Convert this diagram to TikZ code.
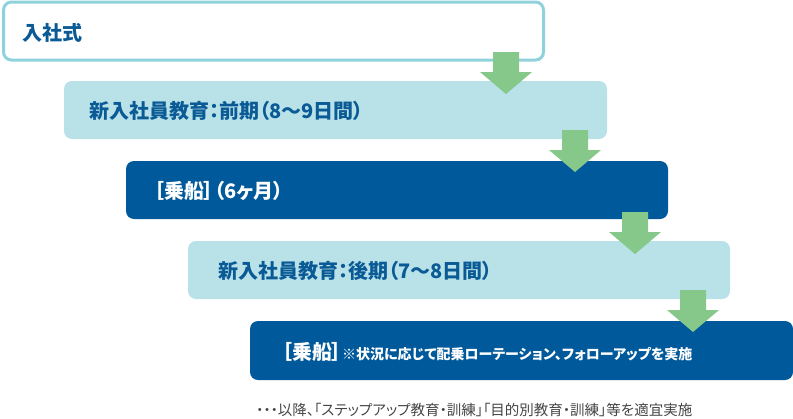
\documentclass[tikz,border=0pt]{standalone}
\usepackage{fontspec}
\newfontfamily\jp{Noto Sans CJK JP}[RawFeature=+palt]
\definecolor{lightfill}{HTML}{B8E1E8}
\definecolor{lightline}{HTML}{8FD2DC}
\definecolor{darkfill}{HTML}{00599A}
\definecolor{textblue}{HTML}{0A5A96}
\definecolor{arrowgreen}{HTML}{86C88A}
\definecolor{notegray}{HTML}{444444}
\tikzset{
  stagebox/.style={rectangle, rounded corners=8pt, inner sep=0pt, minimum height=58pt},
  lightbox/.style={stagebox, fill=lightfill},
  darkbox/.style={stagebox, fill=darkfill},
  openbox/.style={stagebox, fill=white, draw=lightline, line width=3pt},
  boxtext/.style={anchor=west, inner sep=0pt, font=\jp\bfseries\fontsize{20}{20}\selectfont},
  greenarrow/.style={fill=arrowgreen}
}
\newcommand{\blockarrow}[1]{\fill[greenarrow] (#1) ++(-13,-42) -- ++(26,0) -- ++(0,20) -- ++(13,0) -- (#1) -- ++(-26,-22) -- ++(13,0) -- cycle;}
\begin{document}
\begin{tikzpicture}[x=1pt,y=-1pt]
\useasboundingbox (0,0) rectangle (793,418);
\node[openbox, minimum width=540pt] (b1) at (273.5,31) {};
\node[lightbox, minimum width=543pt] (b2) at (335.5,110) {};
\node[darkbox, minimum width=542pt] (b3) at (397,190) {};
\node[lightbox, minimum width=542pt] (b4) at (459,270) {};
\node[darkbox, minimum width=543pt, minimum height=59pt] (b5) at (521.5,350.5) {};

\node[boxtext, text=textblue] (t1) at (22,33) {入社式};
\node[boxtext, text=textblue] (t2) at (89,111) {新入社員教育：前期（8〜9日間）};
\node[boxtext, text=white] (t3) at (154,191) {［乗船］（6ヶ月）};
\node[boxtext, text=textblue] (t4) at (218,271) {新入社員教育：後期（7〜8日間）};
\node[boxtext, text=white] (t5) at (282,352) {［乗船］\fontsize{14}{14}\selectfont ※状況に応じて配乗ローテーション、フォローアップを実施};
\node[anchor=west, inner sep=0pt, text=notegray, font=\jp\fontsize{14.5}{14.5}\selectfont] (note) at (256,410) {・・・以降、「ステップアップ教育・訓練」「目的別教育・訓練」等を適宜実施};

\coordinate (a1) at (506,94);
\coordinate (a2) at (575,172);
\coordinate (a3) at (635,254);
\coordinate (a4) at (693,332);
\blockarrow{a1}
\blockarrow{a2}
\blockarrow{a3}
\blockarrow{a4}
\end{tikzpicture}
\end{document}
